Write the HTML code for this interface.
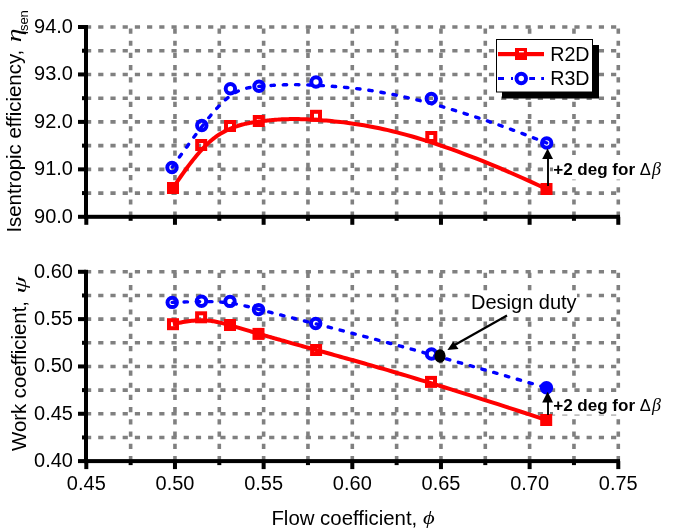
<!DOCTYPE html>
<html><head><meta charset="utf-8"><style>
html,body{margin:0;padding:0;background:#fff;width:676px;height:532px;overflow:hidden;font-family:"Liberation Sans",sans-serif;}
</style></head><body>
<svg width="676" height="532" viewBox="0 0 676 532" style="position:absolute;left:0;top:0;will-change:transform">
<rect width="676" height="532" fill="#fff"/>
<line x1="86" y1="27.00" x2="618.5" y2="27.00" stroke="#808080" stroke-width="3.6" stroke-dasharray="5.2 7.01"/>
<line x1="86" y1="50.73" x2="618.5" y2="50.73" stroke="#808080" stroke-width="3.6" stroke-dasharray="5.2 7.01"/>
<line x1="86" y1="74.45" x2="618.5" y2="74.45" stroke="#808080" stroke-width="3.6" stroke-dasharray="5.2 7.01"/>
<line x1="86" y1="98.18" x2="618.5" y2="98.18" stroke="#808080" stroke-width="3.6" stroke-dasharray="5.2 7.01"/>
<line x1="86" y1="121.90" x2="618.5" y2="121.90" stroke="#808080" stroke-width="3.6" stroke-dasharray="5.2 7.01"/>
<line x1="86" y1="145.62" x2="618.5" y2="145.62" stroke="#808080" stroke-width="3.6" stroke-dasharray="5.2 7.01"/>
<line x1="86" y1="169.35" x2="618.5" y2="169.35" stroke="#808080" stroke-width="3.6" stroke-dasharray="5.2 7.01"/>
<line x1="86" y1="193.08" x2="618.5" y2="193.08" stroke="#808080" stroke-width="3.6" stroke-dasharray="5.2 7.01"/>
<line x1="130.63" y1="216.80" x2="130.63" y2="25.20" stroke="#808080" stroke-width="3.6" stroke-dasharray="5.2 7.01"/>
<line x1="174.96" y1="216.80" x2="174.96" y2="25.20" stroke="#808080" stroke-width="3.6" stroke-dasharray="5.2 7.01"/>
<line x1="219.30" y1="216.80" x2="219.30" y2="25.20" stroke="#808080" stroke-width="3.6" stroke-dasharray="5.2 7.01"/>
<line x1="263.63" y1="216.80" x2="263.63" y2="25.20" stroke="#808080" stroke-width="3.6" stroke-dasharray="5.2 7.01"/>
<line x1="307.96" y1="216.80" x2="307.96" y2="25.20" stroke="#808080" stroke-width="3.6" stroke-dasharray="5.2 7.01"/>
<line x1="352.30" y1="216.80" x2="352.30" y2="25.20" stroke="#808080" stroke-width="3.6" stroke-dasharray="5.2 7.01"/>
<line x1="396.63" y1="216.80" x2="396.63" y2="25.20" stroke="#808080" stroke-width="3.6" stroke-dasharray="5.2 7.01"/>
<line x1="440.96" y1="216.80" x2="440.96" y2="25.20" stroke="#808080" stroke-width="3.6" stroke-dasharray="5.2 7.01"/>
<line x1="485.29" y1="216.80" x2="485.29" y2="25.20" stroke="#808080" stroke-width="3.6" stroke-dasharray="5.2 7.01"/>
<line x1="529.62" y1="216.80" x2="529.62" y2="25.20" stroke="#808080" stroke-width="3.6" stroke-dasharray="5.2 7.01"/>
<line x1="573.96" y1="216.80" x2="573.96" y2="25.20" stroke="#808080" stroke-width="3.6" stroke-dasharray="5.2 7.01"/>
<line x1="618.29" y1="216.80" x2="618.29" y2="25.20" stroke="#808080" stroke-width="3.6" stroke-dasharray="5.2 7.01"/>
<path d="M172.00,167.50 L174.22,164.37 L176.38,161.34 L178.49,158.39 L180.54,155.52 L182.54,152.74 L184.48,150.05 L186.37,147.43 L188.22,144.89 L190.01,142.44 L191.76,140.06 L193.46,137.75 L195.11,135.52 L196.72,133.36 L198.29,131.27 L199.82,129.26 L201.31,127.31 L202.75,125.43 L204.17,123.61 L205.54,121.86 L206.88,120.17 L208.19,118.54 L209.46,116.97 L210.70,115.46 L211.91,114.01 L213.10,112.61 L214.25,111.27 L215.38,109.98 L216.49,108.74 L217.57,107.56 L218.62,106.42 L219.66,105.32 L220.68,104.28 L221.68,103.28 L222.66,102.32 L223.62,101.40 L224.57,100.52 L225.50,99.68 L226.43,98.88 L227.34,98.11 L228.24,97.38 L229.13,96.68 L230.02,96.01 L230.90,95.38 L231.77,94.77 L232.63,94.20 L233.49,93.65 L234.34,93.13 L235.19,92.64 L236.04,92.17 L236.88,91.73 L237.72,91.31 L238.56,90.92 L239.40,90.55 L240.24,90.20 L241.08,89.87 L241.92,89.57 L242.77,89.28 L243.61,89.01 L244.46,88.76 L245.31,88.52 L246.17,88.30 L247.04,88.10 L247.91,87.90 L248.78,87.73 L249.66,87.56 L250.56,87.41 L251.46,87.26 L252.37,87.13 L253.29,87.00 L254.22,86.88 L255.16,86.77 L256.12,86.67 L257.08,86.57 L258.06,86.48 L259.06,86.39 L260.07,86.30 L261.10,86.21 L262.14,86.13 L263.20,86.04 L264.27,85.96 L265.37,85.87 L266.48,85.78 L267.62,85.70 L268.78,85.61 L269.97,85.53 L271.18,85.44 L272.41,85.36 L273.68,85.28 L274.97,85.20 L276.30,85.13 L277.66,85.06 L279.05,84.99 L280.48,84.93 L281.94,84.87 L283.45,84.82 L284.99,84.78 L286.57,84.74 L288.20,84.71 L289.87,84.68 L291.58,84.67 L293.35,84.66 L295.16,84.66 L297.01,84.67 L298.92,84.69 L300.89,84.72 L302.90,84.76 L304.97,84.81 L307.10,84.87 L309.28,84.95 L311.53,85.04 L313.83,85.14 L316.19,85.25 L318.62,85.38 L321.12,85.52 L323.68,85.68 L326.30,85.85 L329.00,86.04 L331.77,86.24 L334.60,86.46 L337.52,86.70 L340.50,86.95 L343.57,87.23 L346.72,87.54 L349.96,87.87 L353.29,88.24 L356.71,88.64 L360.23,89.08 L363.85,89.57 L367.58,90.10 L371.42,90.68 L375.37,91.30 L379.44,91.99 L383.62,92.73 L387.93,93.54 L392.37,94.40 L396.94,95.34 L401.65,96.35 L406.49,97.43 L411.48,98.59 L416.61,99.83 L421.89,101.15 L427.32,102.56 L432.91,104.07 L438.66,105.66 L444.58,107.35 L450.66,109.14 L456.92,111.04 L463.35,113.04 L469.96,115.15 L476.75,117.37 L483.73,119.71 L490.90,122.17 L498.26,124.76 L505.82,127.46 L513.58,130.30 L521.54,133.27 L529.71,136.37 L538.10,139.62 L546.70,143.00" fill="none" stroke="#0000ff" stroke-width="3.4" stroke-dasharray="3.4 8.86" stroke-dashoffset="-0.54" stroke-linecap="round"/>
<path d="M173.00,188.00 L175.10,184.82 L177.15,181.76 L179.15,178.82 L181.11,176.01 L183.01,173.30 L184.87,170.72 L186.68,168.24 L188.44,165.87 L190.16,163.60 L191.84,161.44 L193.48,159.37 L195.08,157.40 L196.64,155.53 L198.16,153.74 L199.64,152.04 L201.09,150.43 L202.50,148.90 L203.88,147.45 L205.22,146.07 L206.54,144.77 L207.82,143.54 L209.07,142.37 L210.30,141.27 L211.50,140.24 L212.67,139.26 L213.81,138.34 L214.94,137.47 L216.03,136.66 L217.11,135.89 L218.17,135.17 L219.20,134.49 L220.22,133.85 L221.22,133.24 L222.21,132.68 L223.18,132.14 L224.13,131.63 L225.07,131.14 L226.00,130.68 L226.92,130.24 L227.83,129.81 L228.73,129.40 L229.62,129.01 L230.50,128.62 L231.38,128.26 L232.25,127.90 L233.11,127.56 L233.97,127.23 L234.83,126.91 L235.68,126.61 L236.53,126.31 L237.37,126.03 L238.22,125.76 L239.06,125.49 L239.91,125.24 L240.75,125.00 L241.60,124.76 L242.45,124.54 L243.30,124.32 L244.16,124.11 L245.01,123.91 L245.88,123.72 L246.75,123.53 L247.62,123.35 L248.50,123.17 L249.39,123.01 L250.29,122.84 L251.19,122.68 L252.11,122.53 L253.03,122.38 L253.97,122.23 L254.92,122.09 L255.88,121.95 L256.85,121.82 L257.84,121.68 L258.84,121.55 L259.85,121.42 L260.88,121.29 L261.93,121.16 L262.99,121.03 L264.08,120.90 L265.18,120.77 L266.30,120.65 L267.44,120.52 L268.60,120.40 L269.79,120.27 L271.01,120.15 L272.25,120.04 L273.52,119.93 L274.82,119.82 L276.15,119.72 L277.51,119.62 L278.91,119.53 L280.35,119.45 L281.82,119.37 L283.32,119.30 L284.87,119.24 L286.46,119.19 L288.09,119.15 L289.76,119.11 L291.48,119.09 L293.25,119.08 L295.06,119.08 L296.93,119.09 L298.84,119.12 L300.81,119.16 L302.82,119.21 L304.90,119.28 L307.03,119.36 L309.22,119.46 L311.46,119.57 L313.77,119.70 L316.14,119.85 L318.57,120.01 L321.07,120.19 L323.63,120.39 L326.26,120.61 L328.96,120.85 L331.73,121.11 L334.57,121.39 L337.48,121.70 L340.47,122.02 L343.54,122.38 L346.70,122.76 L349.93,123.19 L353.26,123.65 L356.69,124.15 L360.21,124.70 L363.84,125.30 L367.56,125.96 L371.40,126.67 L375.35,127.44 L379.42,128.28 L383.61,129.19 L387.92,130.17 L392.35,131.22 L396.92,132.36 L401.62,133.57 L406.46,134.88 L411.45,136.28 L416.58,137.77 L421.85,139.36 L427.28,141.05 L432.87,142.85 L438.61,144.75 L444.52,146.77 L450.60,148.91 L456.85,151.17 L463.27,153.55 L469.87,156.06 L476.66,158.70 L483.63,161.48 L490.78,164.39 L498.14,167.45 L505.68,170.65 L513.43,174.01 L521.38,177.52 L529.54,181.18 L537.91,185.01 L546.50,189.00" fill="none" stroke="#ff0000" stroke-width="4"/>
<rect x="169.00" y="184.00" width="8" height="8" fill="#ff0000" stroke="#ff0000" stroke-width="4"/>
<rect x="197.20" y="141.00" width="8" height="8" fill="none" stroke="#ff0000" stroke-width="4"/>
<rect x="226.00" y="122.00" width="8" height="8" fill="none" stroke="#ff0000" stroke-width="4"/>
<rect x="254.80" y="117.00" width="8" height="8" fill="none" stroke="#ff0000" stroke-width="4"/>
<rect x="312.00" y="111.80" width="8" height="8" fill="none" stroke="#ff0000" stroke-width="4"/>
<rect x="427.30" y="133.00" width="8" height="8" fill="none" stroke="#ff0000" stroke-width="4"/>
<rect x="542.50" y="185.00" width="8" height="8" fill="#ff0000" stroke="#ff0000" stroke-width="4"/>
<circle cx="172.00" cy="167.50" r="4.7" fill="none" stroke="#0000ff" stroke-width="4"/>
<circle cx="201.80" cy="125.50" r="4.7" fill="none" stroke="#0000ff" stroke-width="4"/>
<circle cx="230.40" cy="88.80" r="4.7" fill="none" stroke="#0000ff" stroke-width="4"/>
<circle cx="259.00" cy="86.30" r="4.7" fill="none" stroke="#0000ff" stroke-width="4"/>
<circle cx="316.00" cy="82.00" r="4.7" fill="none" stroke="#0000ff" stroke-width="4"/>
<circle cx="431.30" cy="98.50" r="4.7" fill="none" stroke="#0000ff" stroke-width="4"/>
<circle cx="546.70" cy="143.00" r="4.7" fill="none" stroke="#0000ff" stroke-width="4"/>
<rect x="84" y="25.0" width="4" height="193.8" fill="#000"/>
<rect x="84" y="214.8" width="536" height="4" fill="#000"/>
<rect x="78" y="25.00" width="8" height="4" fill="#000"/>
<rect x="78" y="72.45" width="8" height="4" fill="#000"/>
<rect x="78" y="119.90" width="8" height="4" fill="#000"/>
<rect x="78" y="167.35" width="8" height="4" fill="#000"/>
<rect x="78" y="214.80" width="8" height="4" fill="#000"/>
<rect x="82" y="48.73" width="4" height="4" fill="#000"/>
<rect x="82" y="96.18" width="4" height="4" fill="#000"/>
<rect x="82" y="143.62" width="4" height="4" fill="#000"/>
<rect x="82" y="191.08" width="4" height="4" fill="#000"/>
<rect x="84.30" y="216.8" width="4" height="8" fill="#000"/>
<rect x="128.63" y="216.8" width="4" height="4" fill="#000"/>
<rect x="172.96" y="216.8" width="4" height="8" fill="#000"/>
<rect x="217.30" y="216.8" width="4" height="4" fill="#000"/>
<rect x="261.63" y="216.8" width="4" height="8" fill="#000"/>
<rect x="305.96" y="216.8" width="4" height="4" fill="#000"/>
<rect x="350.30" y="216.8" width="4" height="8" fill="#000"/>
<rect x="394.63" y="216.8" width="4" height="4" fill="#000"/>
<rect x="438.96" y="216.8" width="4" height="8" fill="#000"/>
<rect x="483.29" y="216.8" width="4" height="4" fill="#000"/>
<rect x="527.62" y="216.8" width="4" height="8" fill="#000"/>
<rect x="571.96" y="216.8" width="4" height="4" fill="#000"/>
<rect x="616.29" y="216.8" width="4" height="8" fill="#000"/>
<line x1="86" y1="271.80" x2="618.5" y2="271.80" stroke="#808080" stroke-width="3.6" stroke-dasharray="5.2 7.01"/>
<line x1="86" y1="295.46" x2="618.5" y2="295.46" stroke="#808080" stroke-width="3.6" stroke-dasharray="5.2 7.01"/>
<line x1="86" y1="319.13" x2="618.5" y2="319.13" stroke="#808080" stroke-width="3.6" stroke-dasharray="5.2 7.01"/>
<line x1="86" y1="342.79" x2="618.5" y2="342.79" stroke="#808080" stroke-width="3.6" stroke-dasharray="5.2 7.01"/>
<line x1="86" y1="366.45" x2="618.5" y2="366.45" stroke="#808080" stroke-width="3.6" stroke-dasharray="5.2 7.01"/>
<line x1="86" y1="390.11" x2="618.5" y2="390.11" stroke="#808080" stroke-width="3.6" stroke-dasharray="5.2 7.01"/>
<line x1="86" y1="413.78" x2="618.5" y2="413.78" stroke="#808080" stroke-width="3.6" stroke-dasharray="5.2 7.01"/>
<line x1="86" y1="437.44" x2="618.5" y2="437.44" stroke="#808080" stroke-width="3.6" stroke-dasharray="5.2 7.01"/>
<line x1="130.63" y1="461.10" x2="130.63" y2="270.00" stroke="#808080" stroke-width="3.6" stroke-dasharray="5.2 7.01"/>
<line x1="174.96" y1="461.10" x2="174.96" y2="270.00" stroke="#808080" stroke-width="3.6" stroke-dasharray="5.2 7.01"/>
<line x1="219.30" y1="461.10" x2="219.30" y2="270.00" stroke="#808080" stroke-width="3.6" stroke-dasharray="5.2 7.01"/>
<line x1="263.63" y1="461.10" x2="263.63" y2="270.00" stroke="#808080" stroke-width="3.6" stroke-dasharray="5.2 7.01"/>
<line x1="307.96" y1="461.10" x2="307.96" y2="270.00" stroke="#808080" stroke-width="3.6" stroke-dasharray="5.2 7.01"/>
<line x1="352.30" y1="461.10" x2="352.30" y2="270.00" stroke="#808080" stroke-width="3.6" stroke-dasharray="5.2 7.01"/>
<line x1="396.63" y1="461.10" x2="396.63" y2="270.00" stroke="#808080" stroke-width="3.6" stroke-dasharray="5.2 7.01"/>
<line x1="440.96" y1="461.10" x2="440.96" y2="270.00" stroke="#808080" stroke-width="3.6" stroke-dasharray="5.2 7.01"/>
<line x1="485.29" y1="461.10" x2="485.29" y2="270.00" stroke="#808080" stroke-width="3.6" stroke-dasharray="5.2 7.01"/>
<line x1="529.62" y1="461.10" x2="529.62" y2="270.00" stroke="#808080" stroke-width="3.6" stroke-dasharray="5.2 7.01"/>
<line x1="573.96" y1="461.10" x2="573.96" y2="270.00" stroke="#808080" stroke-width="3.6" stroke-dasharray="5.2 7.01"/>
<line x1="618.29" y1="461.10" x2="618.29" y2="270.00" stroke="#808080" stroke-width="3.6" stroke-dasharray="5.2 7.01"/>
<path d="M172.20,302.40 L174.38,302.31 L176.51,302.23 L178.58,302.15 L180.60,302.08 L182.57,302.01 L184.48,301.95 L186.35,301.89 L188.17,301.83 L189.93,301.79 L191.66,301.74 L193.34,301.70 L194.97,301.67 L196.56,301.64 L198.11,301.62 L199.62,301.60 L201.09,301.58 L202.53,301.58 L203.92,301.57 L205.28,301.57 L206.61,301.58 L207.91,301.59 L209.17,301.61 L210.40,301.63 L211.60,301.65 L212.78,301.68 L213.92,301.72 L215.05,301.76 L216.14,301.81 L217.22,301.86 L218.27,301.91 L219.30,301.97 L220.31,302.04 L221.31,302.11 L222.28,302.18 L223.24,302.27 L224.19,302.35 L225.12,302.44 L226.04,302.54 L226.95,302.64 L227.85,302.74 L228.74,302.85 L229.62,302.97 L230.49,303.09 L231.36,303.22 L232.22,303.35 L233.08,303.48 L233.93,303.62 L234.78,303.77 L235.62,303.91 L236.46,304.07 L237.30,304.23 L238.14,304.39 L238.97,304.56 L239.81,304.73 L240.65,304.91 L241.49,305.09 L242.33,305.27 L243.17,305.47 L244.02,305.66 L244.87,305.86 L245.73,306.06 L246.59,306.27 L247.46,306.48 L248.33,306.70 L249.21,306.92 L250.11,307.14 L251.00,307.37 L251.91,307.60 L252.83,307.84 L253.76,308.08 L254.71,308.32 L255.66,308.57 L256.63,308.82 L257.61,309.08 L258.61,309.34 L259.62,309.60 L260.64,309.87 L261.69,310.14 L262.75,310.41 L263.82,310.69 L264.92,310.97 L266.04,311.26 L267.18,311.55 L268.34,311.84 L269.53,312.15 L270.74,312.45 L271.98,312.77 L273.25,313.09 L274.54,313.41 L275.87,313.75 L277.24,314.09 L278.63,314.44 L280.06,314.80 L281.53,315.17 L283.04,315.55 L284.59,315.94 L286.18,316.34 L287.81,316.75 L289.49,317.17 L291.21,317.60 L292.97,318.05 L294.79,318.51 L296.66,318.98 L298.57,319.46 L300.54,319.96 L302.56,320.47 L304.64,321.00 L306.78,321.54 L308.97,322.10 L311.22,322.68 L313.53,323.27 L315.91,323.87 L318.35,324.50 L320.85,325.14 L323.42,325.80 L326.06,326.47 L328.77,327.17 L331.54,327.89 L334.39,328.62 L337.32,329.38 L340.32,330.15 L343.40,330.95 L346.56,331.77 L349.81,332.62 L353.15,333.50 L356.59,334.40 L360.12,335.33 L363.75,336.29 L367.50,337.28 L371.34,338.30 L375.31,339.36 L379.38,340.45 L383.58,341.58 L387.90,342.74 L392.35,343.95 L396.93,345.19 L401.64,346.48 L406.49,347.81 L411.48,349.18 L416.62,350.60 L421.90,352.06 L427.34,353.58 L432.93,355.14 L438.68,356.75 L444.59,358.41 L450.67,360.13 L456.92,361.90 L463.35,363.72 L469.95,365.60 L476.73,367.54 L483.70,369.54 L490.85,371.60 L498.20,373.72 L505.74,375.90 L513.48,378.15 L521.42,380.46 L529.57,382.84 L537.93,385.28 L546.50,387.80" fill="none" stroke="#0000ff" stroke-width="3.4" stroke-dasharray="3.4 8.86" stroke-dashoffset="0.4" stroke-linecap="round"/>
<path d="M173.00,324.20 L175.10,323.70 L177.14,323.24 L179.13,322.82 L181.08,322.43 L182.98,322.08 L184.83,321.77 L186.64,321.49 L188.40,321.25 L190.12,321.04 L191.79,320.86 L193.43,320.70 L195.02,320.58 L196.58,320.49 L198.10,320.42 L199.58,320.38 L201.03,320.36 L202.44,320.37 L203.81,320.40 L205.16,320.45 L206.47,320.52 L207.75,320.62 L209.01,320.72 L210.23,320.85 L211.43,321.00 L212.60,321.15 L213.75,321.33 L214.87,321.51 L215.97,321.71 L217.05,321.92 L218.10,322.14 L219.14,322.36 L220.16,322.60 L221.16,322.84 L222.14,323.09 L223.11,323.34 L224.06,323.59 L225.00,323.85 L225.93,324.11 L226.84,324.37 L227.75,324.62 L228.65,324.88 L229.54,325.13 L230.42,325.39 L231.29,325.64 L232.16,325.89 L233.02,326.14 L233.87,326.39 L234.73,326.64 L235.58,326.89 L236.42,327.14 L237.26,327.38 L238.11,327.63 L238.95,327.88 L239.79,328.13 L240.63,328.38 L241.47,328.63 L242.32,328.88 L243.16,329.13 L244.01,329.39 L244.87,329.64 L245.73,329.90 L246.59,330.15 L247.46,330.41 L248.34,330.68 L249.23,330.94 L250.12,331.21 L251.02,331.47 L251.94,331.75 L252.86,332.02 L253.79,332.30 L254.74,332.58 L255.70,332.86 L256.67,333.15 L257.65,333.44 L258.65,333.73 L259.67,334.03 L260.70,334.33 L261.75,334.63 L262.81,334.94 L263.89,335.26 L265.00,335.58 L266.12,335.90 L267.26,336.23 L268.43,336.57 L269.62,336.91 L270.84,337.26 L272.09,337.61 L273.36,337.98 L274.66,338.35 L276.00,338.73 L277.37,339.12 L278.77,339.51 L280.21,339.92 L281.68,340.34 L283.20,340.76 L284.75,341.20 L286.34,341.65 L287.98,342.11 L289.66,342.58 L291.38,343.07 L293.15,343.56 L294.97,344.07 L296.84,344.59 L298.75,345.13 L300.72,345.68 L302.75,346.25 L304.82,346.83 L306.96,347.42 L309.15,348.03 L311.40,348.66 L313.71,349.30 L316.08,349.96 L318.51,350.64 L321.01,351.34 L323.57,352.05 L326.20,352.78 L328.90,353.53 L331.67,354.30 L334.50,355.09 L337.42,355.90 L340.40,356.73 L343.47,357.59 L346.61,358.46 L349.85,359.37 L353.17,360.30 L356.59,361.26 L360.11,362.25 L363.73,363.28 L367.45,364.34 L371.28,365.43 L375.22,366.57 L379.28,367.74 L383.46,368.95 L387.76,370.20 L392.19,371.50 L396.75,372.85 L401.45,374.24 L406.28,375.68 L411.25,377.17 L416.37,378.71 L421.64,380.30 L427.06,381.95 L432.64,383.66 L438.38,385.42 L444.28,387.25 L450.35,389.14 L456.59,391.09 L463.01,393.10 L469.61,395.18 L476.38,397.33 L483.35,399.55 L490.50,401.84 L497.85,404.20 L505.39,406.64 L513.14,409.15 L521.09,411.74 L529.24,414.42 L537.61,417.17 L546.20,420.00" fill="none" stroke="#ff0000" stroke-width="4"/>
<rect x="169.00" y="320.20" width="8" height="8" fill="none" stroke="#ff0000" stroke-width="4"/>
<rect x="197.10" y="313.30" width="8" height="8" fill="none" stroke="#ff0000" stroke-width="4"/>
<rect x="226.00" y="321.00" width="8" height="8" fill="#ff0000" stroke="#ff0000" stroke-width="4"/>
<rect x="254.50" y="329.90" width="8" height="8" fill="#ff0000" stroke="#ff0000" stroke-width="4"/>
<rect x="312.10" y="346.00" width="8" height="8" fill="none" stroke="#ff0000" stroke-width="4"/>
<rect x="427.00" y="377.90" width="8" height="8" fill="none" stroke="#ff0000" stroke-width="4"/>
<rect x="542.20" y="416.00" width="8" height="8" fill="#ff0000" stroke="#ff0000" stroke-width="4"/>
<circle cx="172.20" cy="302.40" r="4.7" fill="none" stroke="#0000ff" stroke-width="4"/>
<circle cx="201.50" cy="301.20" r="4.7" fill="none" stroke="#0000ff" stroke-width="4"/>
<circle cx="230.00" cy="301.40" r="4.7" fill="none" stroke="#0000ff" stroke-width="4"/>
<circle cx="258.50" cy="309.60" r="4.7" fill="none" stroke="#0000ff" stroke-width="4"/>
<circle cx="315.70" cy="323.50" r="4.7" fill="none" stroke="#0000ff" stroke-width="4"/>
<circle cx="431.50" cy="354.00" r="4.7" fill="none" stroke="#0000ff" stroke-width="4"/>
<circle cx="546.50" cy="387.80" r="4.7" fill="#0000ff" stroke="#0000ff" stroke-width="4"/>
<rect x="84" y="269.8" width="4" height="193.29999999999995" fill="#000"/>
<rect x="84" y="459.09999999999997" width="536" height="4" fill="#000"/>
<rect x="78" y="269.80" width="8" height="4" fill="#000"/>
<rect x="78" y="317.12" width="8" height="4" fill="#000"/>
<rect x="78" y="364.45" width="8" height="4" fill="#000"/>
<rect x="78" y="411.77" width="8" height="4" fill="#000"/>
<rect x="78" y="459.10" width="8" height="4" fill="#000"/>
<rect x="82" y="293.46" width="4" height="4" fill="#000"/>
<rect x="82" y="340.79" width="4" height="4" fill="#000"/>
<rect x="82" y="388.11" width="4" height="4" fill="#000"/>
<rect x="82" y="435.44" width="4" height="4" fill="#000"/>
<rect x="84.30" y="461.09999999999997" width="4" height="8" fill="#000"/>
<rect x="128.63" y="461.09999999999997" width="4" height="4" fill="#000"/>
<rect x="172.96" y="461.09999999999997" width="4" height="8" fill="#000"/>
<rect x="217.30" y="461.09999999999997" width="4" height="4" fill="#000"/>
<rect x="261.63" y="461.09999999999997" width="4" height="8" fill="#000"/>
<rect x="305.96" y="461.09999999999997" width="4" height="4" fill="#000"/>
<rect x="350.30" y="461.09999999999997" width="4" height="8" fill="#000"/>
<rect x="394.63" y="461.09999999999997" width="4" height="4" fill="#000"/>
<rect x="438.96" y="461.09999999999997" width="4" height="8" fill="#000"/>
<rect x="483.29" y="461.09999999999997" width="4" height="4" fill="#000"/>
<rect x="527.62" y="461.09999999999997" width="4" height="8" fill="#000"/>
<rect x="571.96" y="461.09999999999997" width="4" height="4" fill="#000"/>
<rect x="616.29" y="461.09999999999997" width="4" height="8" fill="#000"/>
<rect x="553" y="155" width="112" height="24.5" fill="#fff"/>
<line x1="548" y1="186" x2="548" y2="157.4" stroke="#000" stroke-width="1.9"/>
<path d="M547.6,148.4 L553,159.1 L542.2,159.1 Z" fill="#000"/>
<text x="553.2" y="175" font-family="Liberation Sans, sans-serif" font-size="17.05" font-weight="bold" fill="#000">+2 deg for</text>
<text x="639.8" y="175" font-family="Liberation Sans, sans-serif" font-size="16.5" fill="#000">&#916;</text>
<text x="652" y="175" font-family="Liberation Serif, serif" font-style="italic" font-size="18" fill="#000">&#946;</text>
<rect x="553" y="392" width="112" height="22.600000000000023" fill="#fff"/>
<line x1="548" y1="415" x2="548" y2="400.7" stroke="#000" stroke-width="1.9"/>
<path d="M547.6,391.7 L553,402.4 L542.2,402.4 Z" fill="#000"/>
<text x="553.2" y="410.7" font-family="Liberation Sans, sans-serif" font-size="17.05" font-weight="bold" fill="#000">+2 deg for</text>
<text x="639.8" y="410.7" font-family="Liberation Sans, sans-serif" font-size="16.5" fill="#000">&#916;</text>
<text x="652" y="410.7" font-family="Liberation Serif, serif" font-style="italic" font-size="18" fill="#000">&#946;</text>
<ellipse cx="440" cy="356" rx="5.6" ry="6.8" fill="#000"/>
<rect x="471" y="291" width="106" height="25.5" fill="#fff"/>
<text x="471" y="309.4" font-family="Liberation Sans, sans-serif" font-size="20" fill="#000">Design duty</text>
<line x1="507" y1="315.5" x2="452" y2="346.5" stroke="#000" stroke-width="2.2"/>
<path d="M447.4,350 L453.2,341.5 L458.5,349 Z" fill="#000"/>
<rect x="502" y="45" width="97" height="53.5" fill="#000"/>
<rect x="496.5" y="39.5" width="96" height="52.5" fill="#fff" stroke="#000" stroke-width="1"/>
<rect x="498" y="52" width="46" height="4.2" fill="#ff0000"/>
<rect x="515" y="48" width="12" height="12" fill="#ff0000"/>
<rect x="519" y="51" width="4.8" height="1.4" fill="#fff"/>
<rect x="498" y="77" width="6" height="3" fill="#0000ff"/>
<rect x="511" y="77" width="2" height="3" fill="#0000ff"/>
<rect x="529.2" y="77" width="5.7999999999999545" height="3" fill="#0000ff"/>
<rect x="541.2" y="77" width="2.7999999999999545" height="3" fill="#0000ff"/>
<circle cx="521.25" cy="78.4" r="4.75" fill="#fff" stroke="#0000ff" stroke-width="4"/>
<text transform="translate(550.2,60.9) scale(0.955,1)" font-family="Liberation Sans, sans-serif" font-size="20.6" fill="#000">R2D</text>
<text transform="translate(550.2,84.9) scale(0.955,1)" font-family="Liberation Sans, sans-serif" font-size="20.6" fill="#000">R3D</text>
<text transform="translate(72.9,33.00) scale(0.97,1)" font-family="Liberation Sans, sans-serif" font-size="20.6" text-anchor="end">94.0</text>
<text transform="translate(72.9,80.45) scale(0.97,1)" font-family="Liberation Sans, sans-serif" font-size="20.6" text-anchor="end">93.0</text>
<text transform="translate(72.9,127.90) scale(0.97,1)" font-family="Liberation Sans, sans-serif" font-size="20.6" text-anchor="end">92.0</text>
<text transform="translate(72.9,175.35) scale(0.97,1)" font-family="Liberation Sans, sans-serif" font-size="20.6" text-anchor="end">91.0</text>
<text transform="translate(72.9,222.80) scale(0.97,1)" font-family="Liberation Sans, sans-serif" font-size="20.6" text-anchor="end">90.0</text>
<text transform="translate(72.9,277.80) scale(0.97,1)" font-family="Liberation Sans, sans-serif" font-size="20.6" text-anchor="end">0.60</text>
<text transform="translate(72.9,325.12) scale(0.97,1)" font-family="Liberation Sans, sans-serif" font-size="20.6" text-anchor="end">0.55</text>
<text transform="translate(72.9,372.45) scale(0.97,1)" font-family="Liberation Sans, sans-serif" font-size="20.6" text-anchor="end">0.50</text>
<text transform="translate(72.9,419.77) scale(0.97,1)" font-family="Liberation Sans, sans-serif" font-size="20.6" text-anchor="end">0.45</text>
<text transform="translate(72.9,467.10) scale(0.97,1)" font-family="Liberation Sans, sans-serif" font-size="20.6" text-anchor="end">0.40</text>
<text transform="translate(86.30,489.9) scale(0.97,1)" font-family="Liberation Sans, sans-serif" font-size="20.6" text-anchor="middle">0.45</text>
<text transform="translate(174.96,489.9) scale(0.97,1)" font-family="Liberation Sans, sans-serif" font-size="20.6" text-anchor="middle">0.50</text>
<text transform="translate(263.63,489.9) scale(0.97,1)" font-family="Liberation Sans, sans-serif" font-size="20.6" text-anchor="middle">0.55</text>
<text transform="translate(352.30,489.9) scale(0.97,1)" font-family="Liberation Sans, sans-serif" font-size="20.6" text-anchor="middle">0.60</text>
<text transform="translate(440.96,489.9) scale(0.97,1)" font-family="Liberation Sans, sans-serif" font-size="20.6" text-anchor="middle">0.65</text>
<text transform="translate(529.62,489.9) scale(0.97,1)" font-family="Liberation Sans, sans-serif" font-size="20.6" text-anchor="middle">0.70</text>
<text transform="translate(618.29,489.9) scale(0.97,1)" font-family="Liberation Sans, sans-serif" font-size="20.6" text-anchor="middle">0.75</text>
<text x="271.4" y="524.6" font-family="Liberation Sans, sans-serif" font-size="20.4">Flow coefficient,</text>
<text transform="translate(423,523.6) scale(1.13,0.94)" font-family="Liberation Serif, serif" font-style="italic" font-size="20">&#981;</text>
<text transform="translate(21,232.6) rotate(-90)" font-family="Liberation Sans, sans-serif" font-size="20.4">Isentropic efficiency,</text>
<text transform="translate(21,42.3) rotate(-90) scale(1.35,1)" font-family="Liberation Serif, serif" font-style="italic" font-size="20.5">&#951;</text>
<text transform="translate(28,34) rotate(-90)" font-family="Liberation Sans, sans-serif" font-size="13">isen</text>
<text transform="translate(25.9,451) rotate(-90)" font-family="Liberation Sans, sans-serif" font-size="20.4">Work coefficient,</text>
<text transform="translate(25.9,293.5) rotate(-90) scale(1.36,0.85)" font-family="Liberation Serif, serif" font-style="italic" font-size="20">&#968;</text>
</svg>
</body></html>
